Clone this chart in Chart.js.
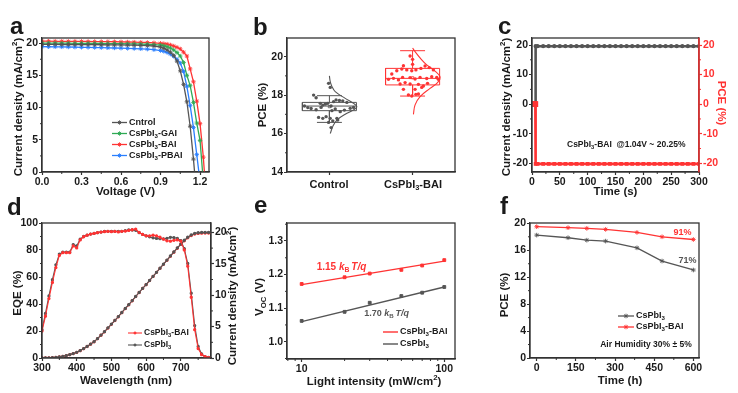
<!DOCTYPE html>
<html>
<head>
<meta charset="utf-8">
<title>CsPbI3-BAI device figure</title>
<script src="https://cdn.jsdelivr.net/npm/chart.js@4.4.1/dist/chart.umd.min.js"></script>
<style>
  body { margin: 0; background: #fff; }
  #page { position: relative; width: 738px; height: 393px; overflow: hidden; background: #fff; }
  canvas { position: absolute; }
</style>
</head>
<body>
<div id="page">
  <canvas id="chartA" width="245" height="203" style="left:0;top:0"></canvas>
  <canvas id="chartB" width="245" height="203" style="left:245px;top:0"></canvas>
  <canvas id="chartC" width="248" height="203" style="left:490px;top:0"></canvas>
  <canvas id="chartD" width="245" height="198" style="left:0;top:195px"></canvas>
  <canvas id="chartE" width="245" height="198" style="left:245px;top:195px"></canvas>
  <canvas id="chartF" width="248" height="198" style="left:490px;top:195px"></canvas>
</div>
<script>
// ---- a: J-V curves
const jvVoltage = [0, 0.05, 0.1, 0.15, 0.2, 0.25, 0.3, 0.35, 0.4, 0.45, 0.5, 0.55, 0.6, 0.65, 0.7, 0.75, 0.8, 0.85, 0.9, 0.925, 0.95, 0.975, 1.0, 1.025, 1.05, 1.075, 1.1, 1.125, 1.15, 1.175, 1.2, 1.225, 1.25];
const jvControl = [19.8, 19.8, 19.8, 19.79, 19.79, 19.78, 19.78, 19.77, 19.76, 19.75, 19.74, 19.73, 19.72, 19.7, 19.68, 19.66, 19.63, 19.56, 19.4, 19.2, 18.95, 18.6, 18.1, 17.2, 15.7, 13.6, 10.9, 7.1, 2.0, -4, null, null, null];
const jvGAI = [20.0, 20.0, 20.0, 19.99, 19.99, 19.98, 19.98, 19.97, 19.96, 19.95, 19.94, 19.93, 19.92, 19.9, 19.88, 19.86, 19.83, 19.78, 19.7, 19.6, 19.45, 19.25, 18.95, 18.55, 18.0, 17.0, 15.0, 13.4, 10.8, 7.6, 4.9, -1.5, null];
const jvBAI = [20.3, 20.3, 20.29, 20.29, 20.28, 20.28, 20.27, 20.26, 20.25, 20.24, 20.23, 20.22, 20.2, 20.18, 20.16, 20.13, 20.1, 20.05, 19.98, 19.92, 19.85, 19.72, 19.55, 19.35, 19.1, 18.6, 18.0, 16.0, 14.0, 11.0, 7.5, 2.3, -5];
const jvPBAI = [19.45, 19.44, 19.43, 19.42, 19.4, 19.38, 19.36, 19.34, 19.32, 19.3, 19.28, 19.25, 19.22, 19.19, 19.16, 19.12, 19.07, 18.98, 18.85, 18.72, 18.55, 18.3, 17.95, 17.5, 16.9, 15.6, 13.3, 10.3, 6.9, 2.7, -1.5, null, null];

// ---- b: PCE statistics (x offsets of the dots)
const bGroups = ['Control', 'CsPbI3-BAI'];
const bQ1 = [17.19, 18.53];
const bQ3 = [17.62, 19.39];
const bMedian = [17.43, 18.87];
const bMean = [17.40, 18.90];
const bMin = [16.58, 17.95];
const bMax = [17.97, 20.31];
const bCtrl = [18.0, 17.86, 17.43, 17.35, 17.3, 17.24, 17.57, 17.48, 17.53, 17.57, 17.43, 17.66, 17.75, 17.72, 17.7, 17.62, 17.36, 17.19, 17.28, 17.14, 17.22, 17.31, 17.36, 16.84, 16.79, 16.88, 16.79, 16.58, 16.66, 16.7, 16.31, 18.61, 18.4, 16.79];
const bCtrlOff = [-0.19, -0.16, -0.30, -0.26, -0.22, -0.16, -0.11, -0.08, -0.05, -0.02, 0.02, 0.05, 0.08, 0.12, 0.16, 0.21, -0.10, 0.03, 0.07, 0.13, 0.18, 0.25, 0.29, -0.13, -0.08, -0.04, 0.01, -0.01, 0.04, 0.10, 0.02, -0.01, 0.01, 0.09];
const bBai = [20.03, 19.86, 19.53, 19.6, 19.27, 19.36, 19.31, 19.27, 19.31, 19.39, 19.51, 19.43, 19.31, 19.1, 18.82, 18.87, 18.79, 18.92, 18.91, 18.84, 18.92, 18.86, 18.96, 18.92, 18.82, 18.58, 18.65, 18.58, 18.56, 18.47, 18.61, 18.3, 18.3, 18.4, 18.01, 17.95, 18.04, 18.06];
const bBaiOff = [-0.03, 0, -0.11, 0, -0.19, -0.13, -0.07, -0.01, 0.04, 0.10, 0.15, 0.2, 0.25, -0.25, -0.29, -0.23, -0.17, -0.12, -0.03, 0.03, 0.09, 0.17, 0.23, 0.29, 0.31, -0.15, -0.09, -0.03, 0.07, 0.13, 0.18, -0.11, 0.03, 0.11, -0.05, -0.01, 0.04, 0.07];
const bCtrlCurveY = [19.0, 18.7, 18.45, 18.18, 17.83, 17.57, 17.4, 17.23, 17.0, 16.7, 16.36, 16.0];
const bCtrlCurveW = [0.0, 0.01, 0.03, 0.07, 0.19, 0.29, 0.33, 0.29, 0.19, 0.09, 0.04, 0.01];
const bBaiCurveY = [20.45, 20.26, 19.83, 19.57, 19.25, 18.95, 18.65, 18.35, 17.92, 17.49, 17.0];
const bBaiCurveW = [0.0, 0.03, 0.11, 0.17, 0.27, 0.33, 0.30, 0.21, 0.09, 0.03, 0.01];

// ---- c: steady-state output
const cTime = [0, 1, 2, 3, 4, 5, 6, 6.5, 10, 20, 30, 40, 50, 60, 70, 80, 90, 100, 110, 120, 130, 140, 150, 160, 170, 180, 190, 200, 210, 220, 230, 240, 250, 260, 270, 280, 290, 300];
const cCurrent = [0, 0, 0, 0, 0, 0, 0, 19.6, 19.6, 19.6, 19.6, 19.6, 19.6, 19.6, 19.6, 19.6, 19.6, 19.6, 19.6, 19.6, 19.6, 19.6, 19.6, 19.6, 19.6, 19.6, 19.6, 19.6, 19.6, 19.6, 19.6, 19.6, 19.6, 19.6, 19.6, 19.6, 19.6, 19.6];
const cPce = [0, 0, 0, 0, 0, 0, 0, -20.2, -20.2, -20.2, -20.2, -20.2, -20.2, -20.2, -20.2, -20.2, -20.2, -20.2, -20.2, -20.2, -20.2, -20.2, -20.2, -20.2, -20.2, -20.2, -20.2, -20.2, -20.2, -20.2, -20.2, -20.2, -20.2, -20.2, -20.2, -20.2, -20.2, -20.2];

// ---- d: EQE and integrated current
const dWave = [300, 310, 320, 330, 340, 350, 360, 370, 380, 390, 400, 410, 420, 430, 440, 450, 460, 470, 480, 490, 500, 510, 520, 530, 540, 550, 560, 570, 580, 590, 600, 610, 620, 630, 640, 650, 660, 670, 680, 690, 700, 710, 720, 730, 740, 750, 760, 770, 780, 790];
const dEqeRef = [21, 33, 46, 58, 69, 77, 78.5, 78.5, 78.5, 84, 83, 88, 90, 91, 91.8, 92.3, 92.8, 93.3, 93.8, 93.8, 93.8, 93.8, 93.8, 93.8, 94.3, 94.8, 94.8, 94.6, 92.8, 91.5, 90.5, 89.8, 89, 88.6, 88.4, 88.3, 88.6, 89.4, 89.2, 88.6, 87, 81, 70, 48, 24, 8.5, 3, 1, 0.5, 0.5];
const dEqeBai = [20, 31, 44, 56, 67, 76, 78, 78, 78, 83, 81.5, 87.5, 89.8, 91, 91.8, 92.3, 92.8, 93.3, 93.6, 93.8, 93.6, 93.8, 93.4, 93.8, 94, 94.5, 95, 95.5, 93, 91.5, 90.5, 90.5, 91, 90.5, 89.5, 88, 86.8, 86.5, 87.2, 87.5, 86.5, 80, 68, 45, 21, 7, 2.5, 1, 0.3, 0.3];
const dJscRef = [0, 0.01, 0.03, 0.06, 0.11, 0.18, 0.27, 0.39, 0.54, 0.71, 0.9, 1.18, 1.5, 1.85, 2.22, 2.6, 3.1, 3.65, 4.2, 4.8, 5.4, 6.0, 6.6, 7.25, 7.9, 8.5, 9.15, 9.8, 10.45, 11.1, 11.7, 12.35, 13.0, 13.65, 14.3, 14.95, 15.6, 16.25, 16.9, 17.55, 18.15, 18.75, 19.25, 19.6, 19.85, 19.95, 20.0, 20.0, 20.0, 20.0];
const dJscBai = [0, 0.01, 0.03, 0.06, 0.1, 0.17, 0.26, 0.38, 0.53, 0.7, 0.88, 1.16, 1.48, 1.83, 2.2, 2.58, 3.08, 3.62, 4.17, 4.77, 5.37, 5.97, 6.57, 7.22, 7.87, 8.47, 9.12, 9.78, 10.43, 11.08, 11.68, 12.33, 12.99, 13.64, 14.28, 14.92, 15.56, 16.2, 16.84, 17.48, 18.08, 18.66, 19.15, 19.5, 19.74, 19.84, 19.88, 19.89, 19.89, 19.89];

// ---- e: Voc vs light intensity
const eIntensity = [10, 20, 30, 50, 70, 100];
const eVocBai = [1.172, 1.192, 1.203, 1.214, 1.227, 1.243];
const eVocRef = [1.062, 1.089, 1.116, 1.136, 1.146, 1.163];
const eFitI = [10, 100];
const eFitBai = [1.170, 1.240];
const eFitRef = [1.060, 1.163];
const eTicks = [10, 100];

// ---- f: air stability
const fTime = [0, 120, 192, 264, 384, 480, 600];
const fRef = [18.25, 17.86, 17.5, 17.36, 16.36, 14.4, 13.07];
const fBai = [19.5, 19.35, 19.25, 19.1, 18.65, 18.0, 17.6];

const TXT = '#1a1a1a', FRAME = '#333333';
const GRAY = '#555555', RED = '#ff3333', GREEN = '#2faa55', BLUE = '#2a7fff';
const FONT = '"Liberation Sans", Arial, sans-serif';

Chart.defaults.font.family = FONT;
Chart.defaults.font.weight = 'bold';
Chart.defaults.color = TXT;

const xy = (xs, ys) => ys.map((y, i) => ({ x: xs[i], y: y }));

function drawRich(ctx, t) {
  const size = t.size || 11.5;
  const parts = t.segs.map(s => (typeof s === 'string' ? { t: s } : { t: s.t, sub: s.sub, sup: s.sup, it: s.it }));
  const fontOf = p => (p.it ? 'italic ' : '') + 'bold ' + (p.sub || p.sup ? size * 0.68 : size) + 'px ' + FONT;
  let w = 0;
  parts.forEach(p => { ctx.font = fontOf(p); p.w = ctx.measureText(p.t).width; w += p.w; });
  ctx.save();
  ctx.translate(t.x, t.y);
  if (t.rot) ctx.rotate(t.rot * Math.PI / 180);
  ctx.fillStyle = t.color || TXT;
  ctx.textBaseline = t.base || 'middle';
  let x = t.align === 'left' ? 0 : -w / 2;
  parts.forEach(p => {
    ctx.font = fontOf(p);
    ctx.fillText(p.t, x, p.sub ? size * 0.3 : p.sup ? -size * 0.38 : 0);
    x += p.w;
  });
  ctx.restore();
}

const sub3 = rest => ['CsPbI', { t: '3', sub: 1 }, rest || ''];
const perCm2 = (pre, unit) => [pre + ' (' + unit + '/cm', { t: '2', sup: 1 }, ')'];

// frame, minor ticks, legends and texts of every panel
const panelSpecs = {
  chartA: {
    minor: [{ id: 'x' }, { id: 'y' }],
    legend: { x: 112, y: 122.5, dy: 11, len: 15, size: 9, marker: true,
      items: [{ ds: 0, segs: ['Cntrol'] }, { ds: 1, segs: sub3('-GAI') }, { ds: 2, segs: sub3('-BAI') }, { ds: 3, segs: sub3('-PBAI') }] },
    texts: [
      { x: 10, y: 34, size: 24, align: 'left', base: 'alphabetic', segs: ['a'] },
      { x: 19, y: 107, rot: -90, segs: perCm2('Current density', 'mA') },
      { x: 125.5, y: 192, segs: ['Voltage (V)'] }
    ]
  },
  chartB: {
    minor: [{ id: 'y' }],
    texts: [
      { x: 8, y: 35, size: 24, align: 'left', base: 'alphabetic', segs: ['b'] },
      { x: 18, y: 105, rot: -90, segs: ['PCE (%)'] },
      { x: 84, y: 185, size: 11, segs: ['Control'] },
      { x: 168, y: 185, size: 11, segs: sub3('-BAI') }
    ]
  },
  chartC: {
    minor: [{ id: 'x' }, { id: 'y' }, { id: 'y2', color: RED }],
    rightColor: RED,
    texts: [
      { x: 8, y: 34, size: 24, align: 'left', base: 'alphabetic', segs: ['c'] },
      { x: 17, y: 107, rot: -90, segs: perCm2('Current density', 'mA') },
      { x: 231, y: 103, rot: 90, color: RED, segs: ['PCE (%)'] },
      { x: 125.5, y: 192, segs: ['Time (s)'] },
      { x: 77, y: 145, size: 8.5, align: 'left', segs: sub3('-BAI  @1.04V ~ 20.25%') }
    ]
  },
  chartD: {
    minor: [{ id: 'x' }, { id: 'y' }, { id: 'y2' }],
    legend: { x: 128, y: 138, dy: 12, len: 14, size: 8.5, marker: true,
      items: [{ ds: 0, segs: sub3('-BAI') }, { ds: 1, segs: sub3('') }] },
    texts: [
      { x: 7, y: 20, size: 24, align: 'left', base: 'alphabetic', segs: ['d'] },
      { x: 18, y: 98, rot: -90, segs: ['EQE (%)'] },
      { x: 233, y: 101, rot: -90, segs: perCm2('Current density', 'mA') },
      { x: 126, y: 186, segs: ['Wavelength (nm)'] }
    ]
  },
  chartE: {
    minor: [{ id: 'x', values: [8, 9, 20, 30, 40, 50, 60, 70, 80, 90] }, { id: 'y' }],
    legend: { x: 138, y: 137, dy: 12, len: 15, size: 9, marker: false,
      items: [{ ds: 0, segs: sub3('-BAI') }, { ds: 2, segs: sub3('') }] },
    texts: [
      { x: 9, y: 18, size: 24, align: 'left', base: 'alphabetic', segs: ['e'] },
      { x: 15, y: 102, rot: -90, segs: ['V', { t: 'OC', sub: 1 }, ' (V)'] },
      { x: 129, y: 187, segs: perCm2('Light intensity', 'mW') },
      { x: 71.7, y: 72, size: 10, align: 'left', color: RED, segs: ['1.15 ', { t: 'k', it: 1 }, { t: 'B ', sub: 1 }, { t: 'T/q', it: 1 }] },
      { x: 119.3, y: 119, size: 9, align: 'left', color: GRAY, segs: ['1.70 ', { t: 'k', it: 1 }, { t: 'B ', sub: 1 }, { t: 'T/q', it: 1 }] }
    ]
  },
  chartF: {
    minor: [{ id: 'x' }, { id: 'y' }],
    legend: { x: 128, y: 121, dy: 11, len: 16, size: 9, marker: true,
      items: [{ ds: 0, segs: sub3('') }, { ds: 1, segs: sub3('-BAI') }] },
    texts: [
      { x: 10, y: 19, size: 24, align: 'left', base: 'alphabetic', segs: ['f'] },
      { x: 15, y: 100, rot: -90, segs: ['PCE (%)'] },
      { x: 130, y: 186, segs: ['Time (h)'] },
      { x: 192.5, y: 37.7, size: 9, color: RED, segs: ['91%'] },
      { x: 197.5, y: 65.7, size: 9, color: GRAY, segs: ['71%'] },
      { x: 156, y: 150, size: 8.5, segs: ['Air Humidity 30% \u00b1 5%'] }
    ]
  }
};

const panelText = {
  id: 'panelText',
  afterDraw(chart) {
    const o = panelSpecs[chart.canvas.id];
    if (!o) return;
    const ctx = chart.ctx, a = chart.chartArea;
    ctx.save();
    (o.minor || []).forEach(m => {
      const s = chart.scales[m.id];
      let vals = m.values;
      if (!vals) {
        const t = s.ticks.map(k => k.value);
        const st = t[1] - t[0];
        vals = [t[0] - st / 2].concat(t.map(v => v + st / 2));
      }
      ctx.strokeStyle = m.color || FRAME;
      ctx.lineWidth = 1;
      vals.forEach(v => {
        if (v <= s.min || v >= s.max) return;
        const p = s.getPixelForValue(v);
        ctx.beginPath();
        if (s.position === 'left') { ctx.moveTo(a.left, p); ctx.lineTo(a.left - 2, p); }
        else if (s.position === 'right') { ctx.moveTo(a.right, p); ctx.lineTo(a.right + 2, p); }
        else { ctx.moveTo(p, a.bottom); ctx.lineTo(p, a.bottom + 2); }
        ctx.stroke();
      });
    });
    ctx.lineWidth = 1.3;
    ctx.strokeStyle = FRAME;
    ctx.strokeRect(a.left, a.top, a.right - a.left, a.bottom - a.top);
    if (o.rightColor) {
      ctx.strokeStyle = o.rightColor;
      ctx.beginPath(); ctx.moveTo(a.right, a.top); ctx.lineTo(a.right, a.bottom); ctx.stroke();
    }
    if (o.legend) {
      const L = o.legend;
      L.items.forEach((it, i) => {
        const ds = chart.data.datasets[it.ds];
        const y = L.y + i * L.dy;
        ctx.strokeStyle = ds.borderColor;
        ctx.lineWidth = ds.borderWidth || 1.3;
        ctx.beginPath(); ctx.moveTo(L.x, y); ctx.lineTo(L.x + L.len, y); ctx.stroke();
        if (L.marker) {
          ctx.fillStyle = ds.borderColor;
          ctx.lineWidth = 0.9;
          Chart.helpers.drawPoint(ctx, { pointStyle: ds.pointStyle, radius: ds.pointRadius, borderWidth: 0.9, rotation: 0 }, L.x + L.len / 2, y);
        }
        drawRich(ctx, { x: L.x + L.len + 2, y: y, align: 'left', size: L.size, segs: it.segs });
      });
    }
    (o.texts || []).forEach(t => drawRich(ctx, t));
    ctx.restore();
  }
};
Chart.register(panelText);

const tickFont = { size: 10.5, weight: 'bold' };
function axis(o) {
  const col = o.color || FRAME;
  const vertical = o.pos === 'left' || o.pos === 'right';
  const ax = {
    type: o.type || 'linear',
    position: o.pos,
    min: o.min,
    max: o.max,
    afterFit: s => { if (vertical) s.width = o.fit; else s.height = o.fit; },
    grid: { drawOnChartArea: false, tickLength: 3, color: col, tickWidth: 1.2 },
    border: { color: col, width: 1.2 },
    ticks: { includeBounds: false, font: o.font || tickFont, color: o.color || TXT, padding: o.pad == null ? 1 : o.pad, maxRotation: 0, autoSkip: false }
  };
  if (o.step) ax.ticks.stepSize = o.step;
  if (o.fmt) ax.ticks.callback = o.fmt;
  if (o.fixed) ax.afterBuildTicks = s => { s.ticks = o.fixed.map(v => ({ value: v })); };
  return ax;
}

function base(opts) {
  return Object.assign({ responsive: false, animation: false, events: [], devicePixelRatio: 1 }, opts, {
    plugins: { legend: { display: false }, tooltip: { enabled: false } }
  });
}

// a
const jvSeries = [jvControl, jvGAI, jvBAI, jvPBAI];
const jvColors = [GRAY, GREEN, RED, BLUE];
new Chart(document.getElementById('chartA'), {
  type: 'line',
  data: {
    datasets: jvSeries.map((s, i) => ({
      data: xy(jvVoltage, s),
      borderColor: jvColors[i], backgroundColor: jvColors[i],
      borderWidth: 1.3, pointStyle: 'star', pointRadius: 2.2, pointBorderWidth: 0.9
    }))
  },
  options: base({
    layout: { padding: { top: 38, right: 36, left: 0, bottom: 0 } },
    scales: {
      x: axis({ pos: 'bottom', min: 0, max: 1.268, step: 0.3, fit: 31, fmt: v => v.toFixed(1) }),
      y: axis({ pos: 'left', min: 0, max: 20.8, step: 5, fit: 42 })
    }
  })
});

// b
function boxPath(i) {
  const g = i + 1, h = 0.325, c = 0.15;
  return [
    { x: g - h, y: bQ1[i] }, { x: g + h, y: bQ1[i] }, { x: g + h, y: bQ3[i] }, { x: g - h, y: bQ3[i] }, { x: g - h, y: bQ1[i] }, { x: g, y: null },
    { x: g - h, y: bMedian[i] }, { x: g + h, y: bMedian[i] }, { x: g, y: null },
    { x: g, y: bQ3[i] }, { x: g, y: bMax[i] }, { x: g, y: null },
    { x: g - c, y: bMax[i] }, { x: g + c, y: bMax[i] }, { x: g, y: null },
    { x: g, y: bQ1[i] }, { x: g, y: bMin[i] }, { x: g, y: null },
    { x: g - c, y: bMin[i] }, { x: g + c, y: bMin[i] }
  ];
}
const bColors = [GRAY, RED];
const bVals = [bCtrl, bBai], bOffs = [bCtrlOff, bBaiOff];
const bCurveY = [bCtrlCurveY, bBaiCurveY], bCurveW = [bCtrlCurveW, bBaiCurveW];
const bSets = [];
bGroups.forEach((name, i) => {
  const col = bColors[i], g = i + 1;
  bSets.push({ label: name + ' box', data: boxPath(i), showLine: true, spanGaps: false, borderColor: col, borderWidth: 1, pointRadius: 0 });
  bSets.push({ label: name + ' dist', data: bCurveY[i].map((y, k) => ({ x: g + bCurveW[i][k], y: y })), showLine: true, tension: 0.4, borderColor: col, borderWidth: 1.1, pointRadius: 0 });
  bSets.push({ label: name, data: bVals[i].map((y, k) => ({ x: g + bOffs[i][k], y: y })), pointStyle: 'circle', pointRadius: 1.7, pointBorderWidth: 0, backgroundColor: col, borderColor: col });
  bSets.push({ label: name + ' mean', data: [{ x: g, y: bMean[i] }], pointStyle: 'rect', pointRadius: 1.6, pointBorderWidth: 0.8, backgroundColor: '#fff', borderColor: col });
});
new Chart(document.getElementById('chartB'), {
  type: 'scatter',
  data: { datasets: bSets },
  options: base({
    layout: { padding: { top: 38, right: 35, left: 0, bottom: 0 } },
    scales: {
      x: axis({ pos: 'bottom', min: 0.49, max: 2.51, fit: 31, fixed: [1, 2], fmt: () => '' }),
      y: axis({ pos: 'left', min: 14, max: 20.97, step: 2, fit: 42 })
    }
  })
});

// c
new Chart(document.getElementById('chartC'), {
  type: 'line',
  data: {
    datasets: [
      { label: 'PCE', data: xy(cTime, cPce), yAxisID: 'y2', borderColor: RED, backgroundColor: RED, borderWidth: 2.6,
        pointStyle: 'rect', pointRadius: c => (c.raw && c.raw.x <= 6 ? 2.2 : 0.8) },
      { label: 'Current density', data: xy(cTime, cCurrent), yAxisID: 'y', borderColor: GRAY, backgroundColor: GRAY, borderWidth: 2.6,
        pointStyle: 'circle', pointRadius: 0.8 }
    ]
  },
  options: base({
    layout: { padding: { top: 38, right: 0, left: 0, bottom: 0 } },
    scales: {
      x: axis({ pos: 'bottom', min: 0, max: 300, step: 50, fit: 31 }),
      y: axis({ pos: 'left', min: -22.94, max: 22.37, step: 10, fit: 42 }),
      y2: axis({ pos: 'right', min: -22.94, max: 22.37, step: 10, fit: 39, color: RED })
    }
  })
});

// d
new Chart(document.getElementById('chartD'), {
  type: 'line',
  data: {
    datasets: [
      { label: 'CsPbI3-BAI EQE', data: xy(dWave, dEqeBai), yAxisID: 'y', borderColor: RED, backgroundColor: RED, borderWidth: 1.1, pointStyle: 'circle', pointRadius: 1.1 },
      { label: 'CsPbI3 EQE', data: xy(dWave, dEqeRef), yAxisID: 'y', borderColor: GRAY, backgroundColor: GRAY, borderWidth: 1.1, pointStyle: 'circle', pointRadius: 1.1 },
      { label: 'CsPbI3 Jsc', data: xy(dWave, dJscRef), yAxisID: 'y2', borderColor: GRAY, backgroundColor: GRAY, borderWidth: 1.1, pointStyle: 'circle', pointRadius: 1.1 },
      { label: 'CsPbI3-BAI Jsc', data: xy(dWave, dJscBai), yAxisID: 'y2', borderColor: RED, backgroundColor: RED, borderWidth: 1.1, pointStyle: 'circle', pointRadius: 1.1 }
    ]
  },
  options: base({
    layout: { padding: { top: 28, right: 0, left: 0, bottom: 0 } },
    scales: {
      x: axis({ pos: 'bottom', min: 300, max: 787, step: 100, fit: 35 }),
      y: axis({ pos: 'left', min: 0, max: 100, step: 20, fit: 42 }),
      y2: axis({ pos: 'right', min: 0, max: 21.5, step: 5, fit: 34 })
    }
  })
});

// e
new Chart(document.getElementById('chartE'), {
  type: 'line',
  data: {
    datasets: [
      { label: 'CsPbI3-BAI fit', data: xy(eFitI, eFitBai), borderColor: RED, borderWidth: 1.4, pointRadius: 0 },
      { label: 'CsPbI3-BAI', data: xy(eIntensity, eVocBai), showLine: false, backgroundColor: RED, borderColor: RED, pointStyle: 'rect', pointRadius: 2 },
      { label: 'CsPbI3 fit', data: xy(eFitI, eFitRef), borderColor: GRAY, borderWidth: 1.4, pointRadius: 0 },
      { label: 'CsPbI3', data: xy(eIntensity, eVocRef), showLine: false, backgroundColor: GRAY, borderColor: GRAY, pointStyle: 'rect', pointRadius: 2 }
    ]
  },
  options: base({
    layout: { padding: { top: 28, right: 35, left: 0, bottom: 0 } },
    scales: {
      x: axis({ type: 'logarithmic', pos: 'bottom', min: 7.89, max: 118.9, fit: 34, fixed: eTicks, fmt: v => String(v) }),
      y: axis({ pos: 'left', min: 0.9485, max: 1.3536, step: 0.1, fit: 42, fmt: v => v.toFixed(1) })
    }
  })
});

// f
new Chart(document.getElementById('chartF'), {
  type: 'line',
  data: {
    datasets: [
      { label: 'CsPbI3', data: xy(fTime, fRef), borderColor: GRAY, backgroundColor: GRAY, borderWidth: 1.3, pointStyle: 'star', pointRadius: 2.3, pointBorderWidth: 0.9 },
      { label: 'CsPbI3-BAI', data: xy(fTime, fBai), borderColor: RED, backgroundColor: RED, borderWidth: 1.3, pointStyle: 'star', pointRadius: 2.3, pointBorderWidth: 0.9 }
    ]
  },
  options: base({
    layout: { padding: { top: 28, right: 39, left: 0, bottom: 0 } },
    scales: {
      x: axis({ pos: 'bottom', min: -25.6, max: 621.5, step: 150, fit: 35 }),
      y: axis({ pos: 'left', min: 0, max: 20.05, step: 4, fit: 40 })
    }
  })
});
</script>
</body>
</html>
